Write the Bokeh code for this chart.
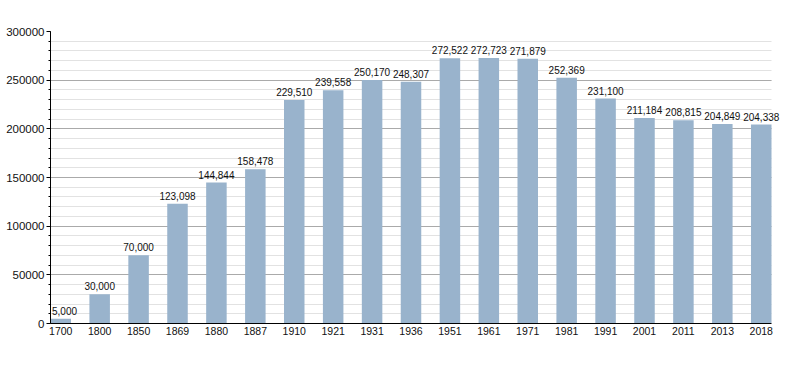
from bokeh.plotting import figure
from bokeh.models import ColumnDataSource, Range1d, FixedTicker, SingleIntervalTicker, Label
from bokeh.embed import file_html
from bokeh.resources import INLINE

years = ["1700", "1800", "1850", "1869", "1880", "1887", "1910", "1921", "1931", "1936",
         "1951", "1961", "1971", "1981", "1991", "2001", "2011", "2013", "2018"]
population = [5000, 30000, 70000, 123098, 144844, 158478, 229510, 239558, 250170, 248307,
              272522, 272723, 271879, 252369, 231100, 211184, 208815, 204849, 204338]

FONT = "Liberation Sans"
BAR_W = 0.527

xs = list(range(len(years)))
src = ColumnDataSource(dict(x=xs, y=population))

# visible bar area spans 721px; frame is extended 20px on the right so labels are not clipped
x_start = -BAR_W / 2
x_data_end = len(years) - 1 + BAR_W / 2
scale = 721 / (x_data_end - x_start)
x_end = x_data_end + 20 / scale

p = figure(width=800, height=373, output_backend="svg", toolbar_location=None,
           x_range=Range1d(x_start, x_end),
           y_range=Range1d(0, 300000),
           min_border_left=50, min_border_right=9, min_border_top=31, min_border_bottom=50)
p.outline_line_color = None
p.background_fill_color = "white"
p.border_fill_color = "white"

p.vbar(x="x", top="y", width=BAR_W, source=src, fill_color="#99b3cc", line_color=None)

for i, v in zip(xs, population):
    first = i == 0
    p.add_layout(Label(x=x_start if first else i, y=v, text="{:,}".format(v),
                       text_align="left" if first else "center", x_offset=1.5 if first else 0,
                       text_baseline="alphabetic", y_offset=8, text_font=FONT,
                       text_font_size="10px", text_color="#111111"))

# axes
p.xaxis.bounds = (x_start, x_data_end)
p.xaxis.ticker = FixedTicker(ticks=xs)
p.xaxis.major_label_overrides = {i: y for i, y in enumerate(years)}
p.xaxis.major_tick_line_color = None
p.xaxis.major_tick_out = 0
p.xaxis.major_tick_in = 0
p.xaxis.minor_tick_line_color = None
p.xaxis.axis_line_color = "black"
p.xaxis.major_label_standoff = 3
p.xaxis.major_label_text_font = FONT
p.xaxis.major_label_text_font_size = "10.5px"
p.xaxis.major_label_text_color = "#111111"

p.yaxis.ticker = SingleIntervalTicker(interval=50000, num_minor_ticks=5)
p.yaxis.formatter.use_scientific = False
p.yaxis.major_tick_out = 4
p.yaxis.major_tick_in = 0
p.yaxis.minor_tick_out = 2
p.yaxis.minor_tick_in = 0
p.yaxis.axis_line_color = "black"
p.yaxis.major_tick_line_color = "black"
p.yaxis.minor_tick_line_color = "black"
p.yaxis.major_label_standoff = 2
p.yaxis.major_label_text_font = FONT
p.yaxis.major_label_text_font_size = "11.5px"
p.yaxis.major_label_text_color = "#111111"

p.xgrid.grid_line_color = None
p.ygrid.grid_line_color = "#aaaaaa"
p.ygrid.minor_grid_line_color = "#e2e2e2"
p.ygrid.cross_bounds = (x_start, x_data_end)
p.ygrid.level = "underlay"

open("out.html", "w").write(file_html(p, INLINE))
